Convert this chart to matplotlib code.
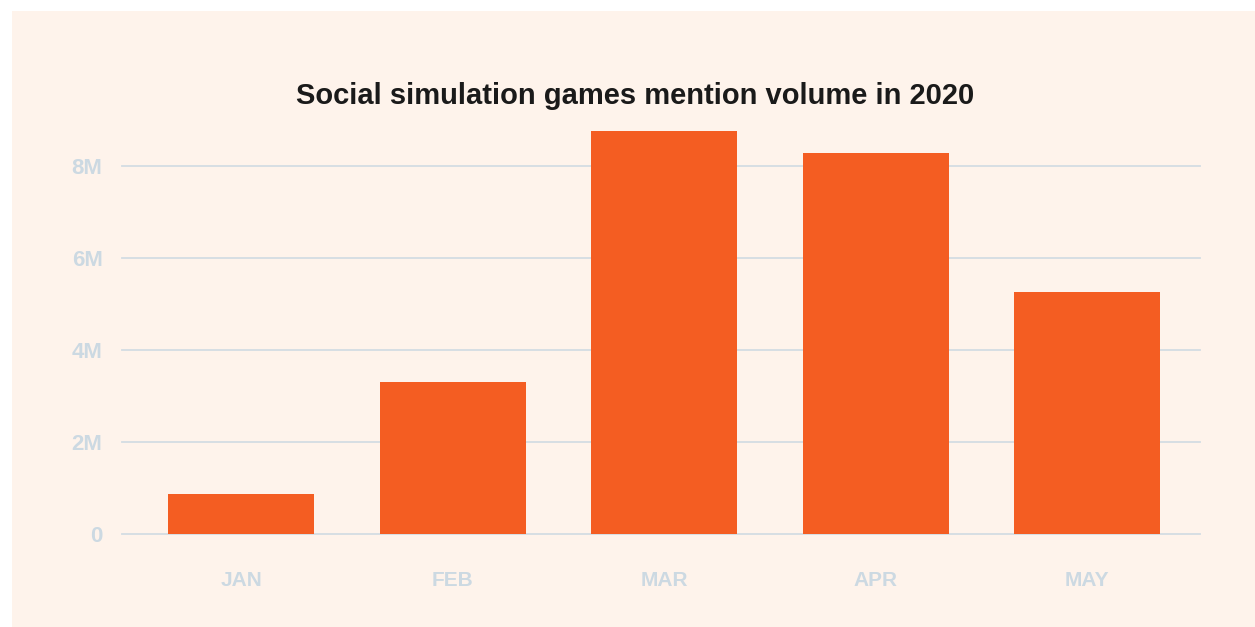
import matplotlib
matplotlib.use("Agg")
import matplotlib.pyplot as plt
from matplotlib.patches import Rectangle
from matplotlib.ticker import FuncFormatter

months = ["JAN", "FEB", "MAR", "APR", "MAY"]
mentions = [0.87e6, 3.30e6, 8.76e6, 8.28e6, 5.26e6]
yticks = [0, 2e6, 4e6, 6e6, 8e6]

W, H = 1255, 627
fig = plt.figure(figsize=(W / 100, H / 100), dpi=100)
fig.patch.set_facecolor("white")
bg = "#fef3eb"
fig.patches.append(Rectangle((12 / W, 0), 1, 1 - 11 / H, transform=fig.transFigure,
                             facecolor=bg, edgecolor="none", zorder=-10))

ax = fig.add_axes([122 / W, (H - 534) / H, (1200 - 122) / W, (534 - 120) / H])
ax.set_zorder(5)
ax.set_facecolor("none")
x = list(range(len(months)))
ax.bar(x, mentions, width=0.69, color="#f45d22", zorder=3)
ax.set_xlim(-0.563, 4.534)
ax.set_ylim(0, 9e6)
ax.set_yticks(yticks)
ax.yaxis.set_major_formatter(FuncFormatter(lambda v, p: "0" if v == 0 else f"{int(v/1e6)}M"))
ax.set_xticks(x)
ax.set_xticklabels(months)
ax.grid(axis="y", color="#d3dce3", linewidth=1.3, zorder=1)
ax.set_axisbelow(True)
for gl in ax.get_ygridlines():
    gl.set_clip_on(False)
for s in ax.spines.values():
    s.set_visible(False)
lab = "#ccd9e2"
ax.tick_params(axis="both", length=0, labelcolor=lab)
ax.tick_params(axis="y", pad=14)
ax.tick_params(axis="x", pad=27)
for t in ax.get_xticklabels():
    t.set_fontfamily("Liberation Sans")
    t.set_fontweight("bold")
    t.set_fontsize(15)
for t in ax.get_yticklabels():
    t.set_fontfamily("Liberation Sans")
    t.set_fontweight("bold")
    t.set_fontsize(16)

fig.text(635 / W, 1 - 96 / H, "Social simulation games mention volume in 2020",
         ha="center", va="center", fontsize=21, fontweight="bold",
         family="Liberation Sans", color="#1a1a1a")

fig.savefig("out.png", dpi=100, facecolor=fig.get_facecolor())
